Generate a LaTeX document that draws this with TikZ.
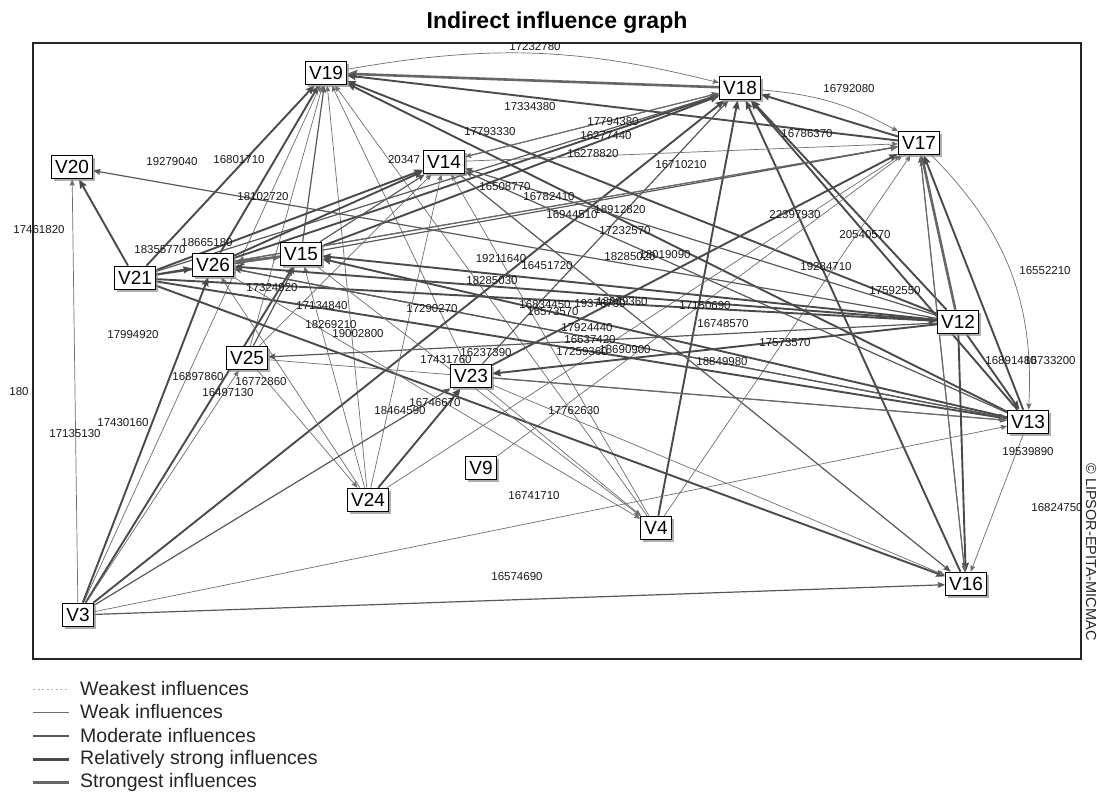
\documentclass[tikz,border=0pt]{standalone}
\usepackage{fontspec}
\setmainfont{Liberation Sans}
\usetikzlibrary{arrows.meta,shadows}
\pgfdeclarelayer{paper}
\pgfdeclarelayer{background}
\pgfsetlayers{paper,background,main}
\definecolor{cW}{HTML}{6E6E6E}
\definecolor{cM}{HTML}{585858}
\definecolor{cS}{HTML}{4A4A4A}
\definecolor{cX}{HTML}{666666}
\definecolor{cD}{HTML}{B0B0B0}
\begin{document}
\begin{tikzpicture}[x=1pt,y=-1pt,
  vn/.style={draw=black, line width=1pt, fill=white, font=\fontsize{19}{19}\selectfont,
    inner xsep=3.5pt, inner ysep=5pt, text height=13.6pt, text depth=0pt,
    drop shadow={shadow xshift=2.5pt, shadow yshift=-2.5pt, fill=black!45, opacity=0.7}},
  lab/.style={font=\fontsize{11.5}{11.5}\selectfont, inner sep=0pt, text=black!90},
  arr/.style={-{Stealth[length=5pt 2, width=4pt 1.6, inset=1pt]}},
  eW/.style={arr, draw=cW, line width=0.7pt},
  eM/.style={arr, draw=cM, line width=1.2pt},
  eS/.style={arr, draw=cS, line width=1.9pt},
  eX/.style={arr, draw=cX, line width=2.6pt},
  leg/.style={font=\fontsize{19.5}{19.5}\selectfont, anchor=west, inner sep=0pt, text=black!85}
]
\useasboundingbox (0,0) rectangle (1097,792);
\begin{pgfonlayer}{paper}
\fill[white] (0,0) rectangle (1097,792);
\end{pgfonlayer}

% title and frame
\node[font=\bfseries\fontsize{23}{23}\selectfont, anchor=base, inner sep=0pt] (title) at (557,29) {Indirect influence graph};
\draw[line width=1.2pt, black!85] (33,43) rectangle (1081,659);
\node[font=\fontsize{14.5}{14.5}\selectfont, rotate=-90, inner sep=0pt, text=black!85] (copy) at (1091,552) {© LIPSOR-EPITA-MICMAC};

% variables
\node[vn] (V19) at (326,73) {V19};
\node[vn] (V18) at (740,88) {V18};
\node[vn] (V17) at (919,143) {V17};
\node[vn] (V20) at (72,167) {V20};
\node[vn] (V14) at (444,162) {V14};
\node[vn] (V21) at (135,278) {V21};
\node[vn] (V26) at (213,265) {V26};
\node[vn] (V15) at (301,254) {V15};
\node[vn] (V12) at (958,322) {V12};
\node[vn] (V25) at (247,358) {V25};
\node[vn] (V23) at (471,376) {V23};
\node[vn] (V13) at (1028,422) {V13};
\node[vn] (V9) at (481,468) {V9};
\node[vn] (V24) at (368,500) {V24};
\node[vn] (V4) at (656,528) {V4};
\node[vn] (V16) at (966,584) {V16};
\node[vn] (V3) at (78,615) {V3};

\begin{pgfonlayer}{background}
% into V19
\draw[eS] (V21) -- (V19);
\draw[eS] (V26) -- (V19);
\draw[eM] (V15) -- (V19);
\draw[eW] (V24) -- (V19);
\draw[eW] (V25) -- (V19);
\draw[eW] (V4) -- (V19);
\draw[eW] (V23) -- (V19);
\draw[eW] (V3) -- (V19);
\draw[eX] (V18) -- (V19);
\draw[eS] (V17) -- (V19);
\draw[eS] (V12) -- (V19);
\draw[eS] (V13) -- (V19);
\draw[eW] (V19) to[bend left=12] (V18);
% into V18
\draw[eS] (V26) -- (V18);
\draw[eS] (V15) -- (V18);
\draw[eM] (V21) -- (V18);
\draw[eS] (V3) -- (V18);
\draw[eS] (V4) -- (V18);
\draw[eS] (V16) -- (V18);
\draw[eS] (V13) -- (V18);
\draw[eS] (V12) -- (V18);
\draw[eS] (V17) -- (V18);
\draw[eM] (V23) -- (V18);
\draw[eM] (V14) -- (V18);
\draw[eW] (V18) to[bend left=12] (V17);
% into V17
\draw[eM] (V15) -- (V17);
\draw[eM] (V26) -- (V17);
\draw[eW] (V21) -- (V17);
\draw[eS] (V23) -- (V17);
\draw[eW] (V4) -- (V17);
\draw[eW] (V9) -- (V17);
\draw[eW] (V14) -- (V17);
\draw[eW] (V24) -- (V17);
\draw[eX] (V12) -- (V17);
\draw[eS] (V13) -- (V17);
\draw[eM] (V16) -- (V17);
\draw[eW] (V17) to[bend left=24] (V13);
% into V20
\draw[eS] (V21) -- (V20);
\draw[eW] (V3) -- (V20);
\draw[eM] (V12) -- (V20);
% into V14
\draw[eS] (V21) -- (V14);
\draw[eS] (V26) -- (V14);
\draw[eM] (V15) -- (V14);
\draw[eW] (V24) -- (V14);
\draw[eW] (V25) -- (V14);
\draw[eW] (V18) -- (V14);
\draw[eM] (V12) -- (V14);
\draw[eM] (V13) -- (V14);
\draw[eW] (V4) -- (V14);
% into V15
\draw[eS] (V12) -- (V15);
\draw[eS] (V13) -- (V15);
\draw[eS] (V3) -- (V15);
\draw[eM] (V25) -- (V15);
\draw[eW] (V24) -- (V15);
\draw[eM] (V21) -- (V15);
% into V26
\draw[eX] (V15) -- (V26);
\draw[eS] (V21) -- (V26);
\draw[eS] (V3) -- (V26);
\draw[eS] (V12) -- (V26);
\draw[eM] (V13) -- (V26);
\draw[eW] (V24) -- (V26);
% into V12
\draw[eS] (V21) -- (V12);
% into V13
\draw[eS] (V21) -- (V13);
\draw[eM] (V26) -- (V13);
\draw[eS] (V12) -- (V13);
\draw[eW] (V3) -- (V13);
\draw[eM] (V23) -- (V13);
\draw[eW] (V25) -- (V13);
% into V16
\draw[eM] (V3) -- (V16);
\draw[eS] (V21) -- (V16);
\draw[eS] (V12) -- (V16);
\draw[eW] (V17) -- (V16);
\draw[eW] (V13) -- (V16);
\draw[eW] (V23) -- (V16);
\draw[eM] (V14) -- (V16);
% into V25
\draw[eM] (V12) -- (V25);
\draw[eW] (V3) -- (V25);
% into V23
\draw[eS] (V12) -- (V23);
\draw[eM] (V3) -- (V23);
\draw[eS] (V24) -- (V23);
% into V4
\draw[eW] (V23) -- (V4);
\draw[eW] (V15) -- (V4);
\draw[eW] (V26) -- (V4);
% into V24
\draw[eW] (V25) -- (V24);
\end{pgfonlayer}

% influence values
\node[lab] (l1) at (535,47) {17232780};
\node[lab] (l2) at (530,107) {17334380};
\node[lab] (l3) at (490,132) {17793330};
\node[lab] (l4) at (613,122) {17794380};
\node[lab] (l5) at (606,136) {16277440};
\node[lab] (l6) at (593,154) {16278820};
\node[lab] (l7) at (681,165) {16710210};
\node[lab] (l8) at (849,89) {16792080};
\node[lab] (l9) at (807,134) {16786370};
\node[lab] (l10) at (172,162) {19279040};
\node[lab] (l11) at (239,160) {16801710};
\node[lab] (l12) at (404,160) {20347};
\node[lab] (l13) at (263,197) {18102720};
\node[lab] (l14) at (39,230) {17461820};
\node[lab] (l15) at (160,250) {18355770};
\node[lab] (l16) at (207,243) {18665180};
\node[lab] (l17) at (505,187) {16508770};
\node[lab] (l18) at (549,197) {16782410};
\node[lab] (l19) at (572,215) {16944510};
\node[lab] (l20) at (620,210) {18912820};
\node[lab] (l21) at (625,231) {17232570};
\node[lab] (l22) at (795,215) {22397930};
\node[lab] (l23) at (865,235) {20540570};
\node[lab] (l24) at (501,259) {19211640};
\node[lab] (l25) at (547,266) {16451720};
\node[lab] (l26) at (492,281) {18285030};
\node[lab] (l27) at (630,257) {18285020};
\node[lab] (l28) at (665,255) {18019090};
\node[lab] (l29) at (826,267) {19284710};
\node[lab] (l30) at (1045,271) {16552210};
\node[lab] (l31) at (895,291) {17592550};
\node[lab] (l32) at (272,288) {17324920};
\node[lab] (l33) at (322,306) {17134840};
\node[lab] (l34) at (432,309) {17290270};
\node[lab] (l35) at (331,325) {18269210};
\node[lab] (l36) at (358,334) {19002800};
\node[lab] (l37) at (133,335) {17994920};
\node[lab] (l38) at (545,305) {16834450};
\node[lab] (l39) at (553,312) {16573570};
\node[lab] (l40) at (600,304) {19376730};
\node[lab] (l41) at (622,302) {18639360};
\node[lab] (l42) at (587,328) {17924440};
\node[lab] (l43) at (590,340) {16637420};
\node[lab] (l44) at (582,352) {17259360};
\node[lab] (l45) at (625,350) {18690900};
\node[lab] (l46) at (705,306) {17150690};
\node[lab] (l47) at (723,324) {16748570};
\node[lab] (l48) at (785,343) {17573570};
\node[lab] (l49) at (722,362) {18849980};
\node[lab] (l50) at (1011,361) {16891480};
\node[lab] (l51) at (1050,361) {16733200};
\node[lab] (l52) at (486,353) {16237390};
\node[lab] (l53) at (446,360) {17431760};
\node[lab] (l54) at (198,377) {16897860};
\node[lab] (l55) at (261,382) {16772860};
\node[lab] (l56) at (228,393) {16497130};
\node[lab] (l57) at (435,403) {16746670};
\node[lab] (l58) at (400,411) {18464590};
\node[lab] (l59) at (123,423) {17430160};
\node[lab] (l60) at (75,434) {17135130};
\node[lab] (l61) at (19,392) {180};
\node[lab] (l62) at (574,411) {17762630};
\node[lab] (l63) at (1028,452) {19539890};
\node[lab] (l64) at (534,496) {16741710};
\node[lab] (l65) at (1057,508) {16824750};
\node[lab] (l66) at (517,577) {16574690};

% legend
\coordinate (a1) at (33,689); \coordinate (b1) at (69,689);
\coordinate (a2) at (33,712); \coordinate (b2) at (69,712);
\coordinate (a3) at (33,736); \coordinate (b3) at (69,736);
\coordinate (a4) at (33,759); \coordinate (b4) at (69,759);
\coordinate (a5) at (33,782); \coordinate (b5) at (69,782);
\draw[cD, line width=0.8pt, dash pattern=on 2pt off 2.5pt] (a1) -- (b1);
\draw[cW, line width=0.9pt] (a2) -- (b2);
\draw[cM, line width=1.5pt] (a3) -- (b3);
\draw[cS, line width=3pt] (a4) -- (b4);
\draw[cX, line width=3pt] (a5) -- (b5);
\node[leg] (t1) at (80,689) {Weakest influences};
\node[leg] (t2) at (80,712) {Weak influences};
\node[leg] (t3) at (80,736) {Moderate influences};
\node[leg] (t4) at (80,759) {Relatively strong influences};
\node[leg] (t5) at (80,782) {Strongest influences};
\end{tikzpicture}
\end{document}
